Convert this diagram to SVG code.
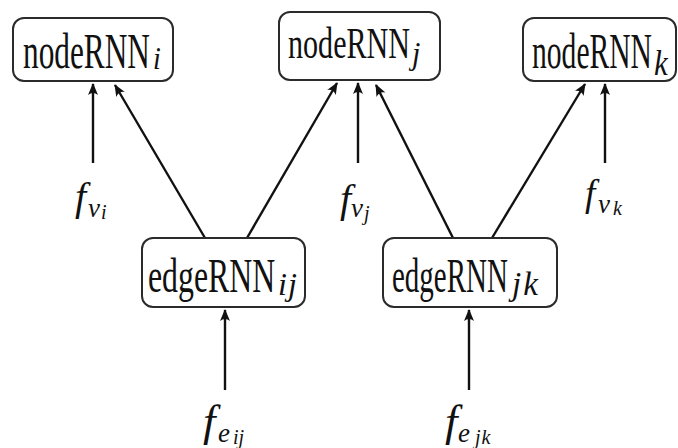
<svg xmlns="http://www.w3.org/2000/svg" width="678" height="448" viewBox="0 0 678 448">
  <style>
    .box { fill: #ffffff; stroke: #2b2b2b; stroke-width: 2; }
    .edge { stroke: #111111; stroke-width: 2.4; fill: none; marker-end: url(#head); }
    text { font-family: "Liberation Serif", "Times New Roman", serif; fill: #111111; }
    .it { font-style: italic; }
  </style>
  <defs>
    <marker id="head" markerUnits="userSpaceOnUse" markerWidth="14" markerHeight="12" viewBox="-12 -6 14 12" refX="0" refY="0" orient="auto">
      <path d="M1,0 L-11,-5 Q-7,0 -11,5 Z" fill="#111111"/>
    </marker>
  </defs>
  <rect width="678" height="448" fill="#ffffff"/>

  <!-- connectors -->
  <g id="connectors">
    <line class="edge" x1="93" y1="163" x2="93" y2="84"/>
    <line class="edge" x1="205" y1="238" x2="115" y2="85"/>
    <line class="edge" x1="247" y1="238" x2="337" y2="83"/>
    <line class="edge" x1="358" y1="163" x2="358" y2="83"/>
    <line class="edge" x1="453" y1="238" x2="376" y2="85"/>
    <line class="edge" x1="492" y1="238" x2="585" y2="84"/>
    <line class="edge" x1="605" y1="163" x2="605" y2="84"/>
    <line class="edge" x1="225" y1="390" x2="225" y2="310"/>
    <line class="edge" x1="469" y1="390" x2="469" y2="310"/>
  </g>

  <!-- node RNNs (labels are stretched vertically) -->
  <g id="nodeRNN_i">
    <rect class="box" x="13" y="18" width="160" height="63" rx="11"/>
    <text transform="translate(23,68) scale(1,1.6)" font-size="31.3">nodeRNN</text>
    <text class="it" transform="translate(153,69) scale(1,1.15)" font-size="28">i</text>
  </g>
  <g id="nodeRNN_j">
    <rect class="box" x="279" y="12" width="161" height="68" rx="11"/>
    <text transform="translate(288,58) scale(1,1.45)" font-size="30.1">nodeRNN</text>
    <text class="it" transform="translate(412,64) scale(1,1.07)" font-size="30">j</text>
  </g>
  <g id="nodeRNN_k">
    <rect class="box" x="523" y="18" width="153" height="63" rx="11"/>
    <text transform="translate(532,68) scale(1,1.72)" font-size="29.6">nodeRNN</text>
    <text class="it" transform="translate(654,75) scale(1,1.15)" font-size="31">k</text>
  </g>

  <!-- edge RNNs -->
  <g id="edgeRNN_ij">
    <rect class="box" x="142" y="238" width="163" height="69" rx="11"/>
    <text transform="translate(148,292) scale(1,1.51)" font-size="31.8">edgeRNN</text>
    <text class="it" x="278" y="295" font-size="32" letter-spacing="1">ij</text>
  </g>
  <g id="edgeRNN_jk">
    <rect class="box" x="383" y="238" width="174" height="69" rx="11"/>
    <text transform="translate(392,292) scale(1,1.65)" font-size="29">edgeRNN</text>
    <text class="it" x="512" y="295" font-size="33" letter-spacing="2">jk</text>
  </g>

  <!-- input features -->
  <g id="f_vi">
    <text class="it" x="75" y="210" font-size="40">f</text>
    <text class="it" x="88" y="217" font-size="27">v</text>
    <text class="it" x="101" y="219" font-size="20">i</text>
  </g>
  <g id="f_vj">
    <text class="it" x="340" y="212" font-size="40">f</text>
    <text class="it" x="351" y="217" font-size="27">v</text>
    <text class="it" x="364" y="220" font-size="20">j</text>
  </g>
  <g id="f_vk">
    <text class="it" x="585" y="206" font-size="37">f</text>
    <text class="it" x="598" y="213" font-size="27">v</text>
    <text class="it" x="613" y="215" font-size="20">k</text>
  </g>
  <g id="f_eij">
    <text class="it" x="203" y="436" font-size="45">f</text>
    <text class="it" x="218" y="442" font-size="27">e</text>
    <text class="it" x="233" y="444" font-size="20">ij</text>
  </g>
  <g id="f_ejk">
    <text class="it" x="445" y="436" font-size="45">f</text>
    <text class="it" x="458" y="442" font-size="27">e</text>
    <text class="it" x="475" y="444" font-size="20" letter-spacing="1">jk</text>
  </g>
</svg>
